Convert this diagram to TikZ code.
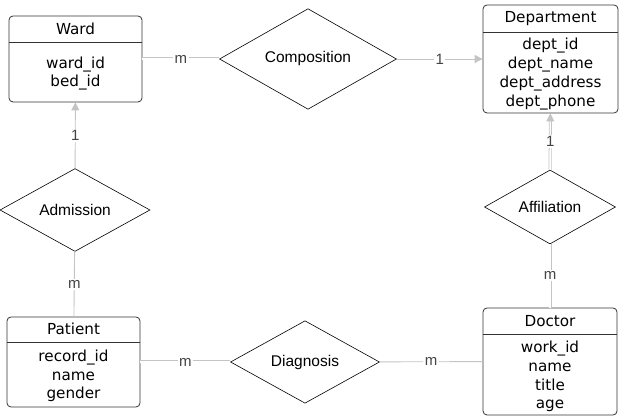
\documentclass[tikz,border=0pt]{standalone}
\usepackage{fontspec}
\setmainfont{DejaVu Sans}
\newfontfamily\relfont{Liberation Sans}
\usetikzlibrary{shapes.geometric,arrows.meta}

\definecolor{linegray}{HTML}{C4C4C4}
\definecolor{cardgray}{HTML}{444444}

\tikzset{
  entity/.style={draw=black!80,line width=0.8pt,rounded corners=4pt,minimum width=133pt},
  title/.style={minimum width=133pt,minimum height=26pt,inner sep=0pt},
  sep/.style={draw=black!80,line width=0.8pt},
  attrs/.style={align=center,inner sep=0pt},
  rel/.style={diamond,draw=black,line width=0.6pt,inner sep=0pt,font=\relfont\fontsize{15.5}{18}\selectfont},
  conn/.style={draw=linegray,line width=0.9pt},
  dbl/.style={draw=linegray,line width=0.8pt,double=white,double distance=1.4pt},
  tip/.style={conn,-{Triangle[length=8pt,width=8pt]}},
  card/.style={fill=white,text=cardgray,inner sep=1.5pt,font=\relfont\fontsize{15}{16}\selectfont}
}
\tikzstyle{every node}=[font=\fontsize{15.2}{18.7}\selectfont]

\begin{document}
\begin{tikzpicture}[x=1pt,y=1pt]
    \useasboundingbox (0,0) rectangle (626,419);
    % entities
    \node[entity,minimum height=86pt] (ward) at (75.5,360) {};
    \node[title,anchor=north] (wardT) at (ward.north) {Ward};
    \draw[sep] (wardT.south west) -- (wardT.south east);
    \node[attrs] (wardA) at (75.5,345.5) {ward\_id\\bed\_id};

    \node[entity,minimum width=135pt,minimum height=108pt] (dept) at (550.5,360) {};
    \node[title,minimum width=135pt,minimum height=27pt,anchor=north] (deptT) at (dept.north) {Department};
    \draw[sep] (deptT.south west) -- (deptT.south east);
    \node[attrs] (deptA) at (550.5,345) {dept\_id\\dept\_name\\dept\_address\\dept\_phone};

    \node[entity,minimum height=90pt] (pat) at (73.5,57) {};
    \node[title,minimum height=25pt,anchor=north] (patT) at (pat.north) {Patient};
    \draw[sep] (patT.south west) -- (patT.south east);
    \node[attrs] (patA) at (73.5,43) {record\_id\\name\\gender};

    \node[entity,minimum width=134pt,minimum height=107pt] (doc) at (550,57.5) {};
    \node[title,minimum width=134pt,anchor=north] (docT) at (doc.north) {Doctor};
    \draw[sep] (docT.south west) -- (docT.south east);
    \node[attrs] (docA) at (550,42.5) {work\_id\\name\\title\\age};

    % relationships
    \node[rel,minimum width=177pt,minimum height=54pt] (comp) at (308,360) {Composition};
    \node[rel,minimum width=131pt,minimum height=65pt] (affil) at (550,212) {Affiliation};
    \node[rel,minimum width=149pt,minimum height=60pt] (diag) at (305,57) {Diagnosis};
    \node[rel,minimum width=150pt,minimum height=68pt] (adm) at (75,209) {Admission};

    % connectors
    \draw[dbl] (ward) -- node[card] {m} (comp);
    \draw[tip] (comp) -- node[card] {1} (dept);
    \draw[dbl,shorten >=7pt] (affil) -- node[card] {1} (dept);
    \draw[tip,shorten <=52pt] (affil) -- (dept);
    \draw[dbl] (affil) -- node[card] {m} (doc);
    \draw[conn] (diag) -- node[card] {m} (doc);
    \draw[dbl] (pat) -- node[card] {m} (diag);
    \draw[tip] (adm) -- node[card] {1} (ward);
    \draw[conn] (adm) -- node[card] {m} (pat);
\end{tikzpicture}
\end{document}
